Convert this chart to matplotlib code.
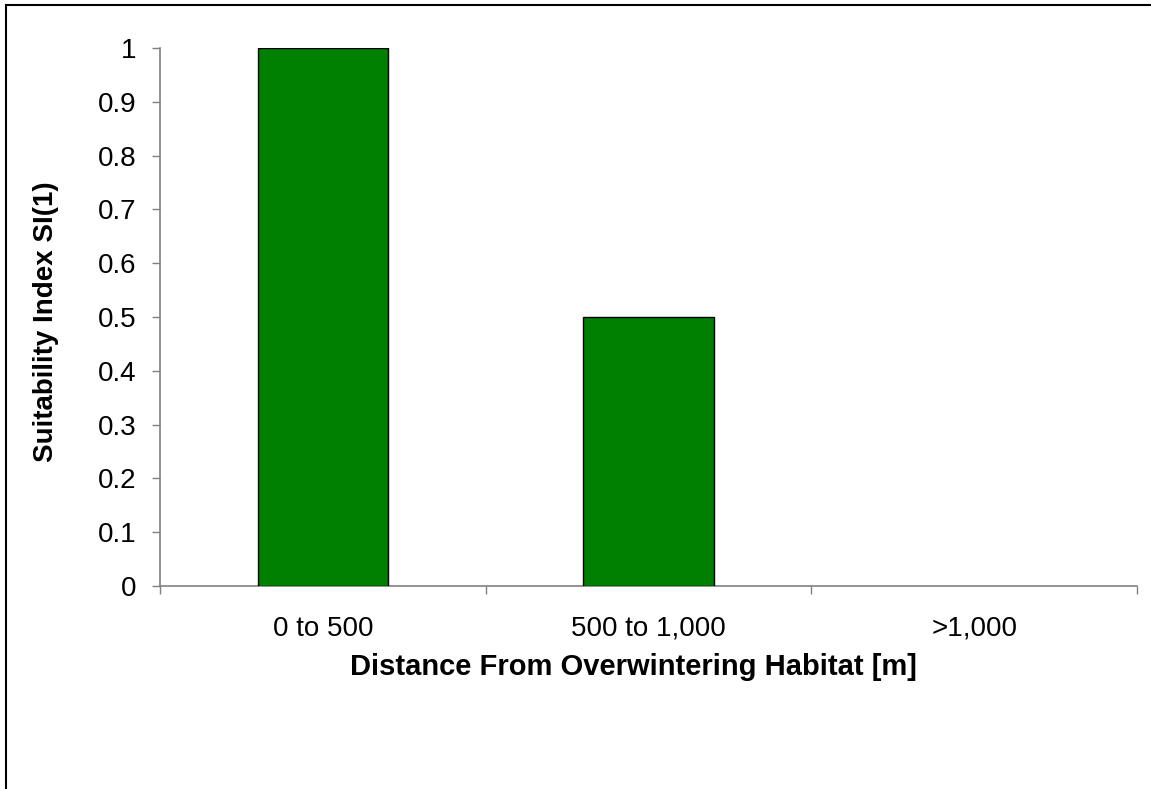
import matplotlib
matplotlib.use("Agg")
import matplotlib.pyplot as plt
from matplotlib.lines import Line2D

categories = ["0 to 500", "500 to 1,000", ">1,000"]
values = [1.0, 0.5, 0.0]
yticks = [0, 0.1, 0.2, 0.3, 0.4, 0.5, 0.6, 0.7, 0.8, 0.9, 1]
ytick_labels = ["0", "0.1", "0.2", "0.3", "0.4", "0.5", "0.6", "0.7", "0.8", "0.9", "1"]

plt.rcParams['font.family'] = ['Liberation Sans', 'DejaVu Sans']

W, H = 1151, 789
fig = plt.figure(figsize=(W/100, H/100), dpi=100)
ax = fig.add_axes([160/W, 1-586/H, (1137-160)/W, (586-48)/H])

x = list(range(len(categories)))
ax.bar(x, values, width=0.4, color="#008000", edgecolor="black",
       linewidth=[1.0 if v > 0 else 0 for v in values], zorder=3)
ax.set_xlim(-0.5, 2.5)
ax.set_ylim(0, 1)
ax.set_yticks(yticks)
ax.set_yticklabels(ytick_labels, fontsize=20)
ax.set_xticks([-0.5, 0.5, 1.5, 2.5])
ax.set_xticklabels([])
ax.set_xticks(x, minor=True)
ax.set_xticklabels(categories, minor=True, fontsize=20)
ax.tick_params(axis='x', which='minor', length=0, pad=21.5)
ax.tick_params(axis='x', which='major', length=6, width=1, color="#808080", direction='out')
ax.tick_params(axis='y', length=6, width=1, color="#808080", direction='out', pad=11)
for s in ['top', 'right']:
    ax.spines[s].set_visible(False)
for s in ['left', 'bottom']:
    ax.spines[s].set_color("#808080")
    ax.spines[s].set_linewidth(1.2)

fig.text(633/W, 1-675/H, "Distance From Overwintering Habitat [m]", fontsize=21,
         fontweight='bold', ha='center', va='baseline')
fig.text(46/W, 1-322/H, "Suitability Index SI(1)", fontsize=20, fontweight='bold',
         rotation=90, ha='center', va='center')

fig.add_artist(Line2D([6/W, 1], [1-5/H, 1-5/H], transform=fig.transFigure, color="black", linewidth=1.5))
fig.add_artist(Line2D([6/W, 6/W], [0, 1-5/H], transform=fig.transFigure, color="black", linewidth=1.5))

fig.savefig("out.png", dpi=100)
